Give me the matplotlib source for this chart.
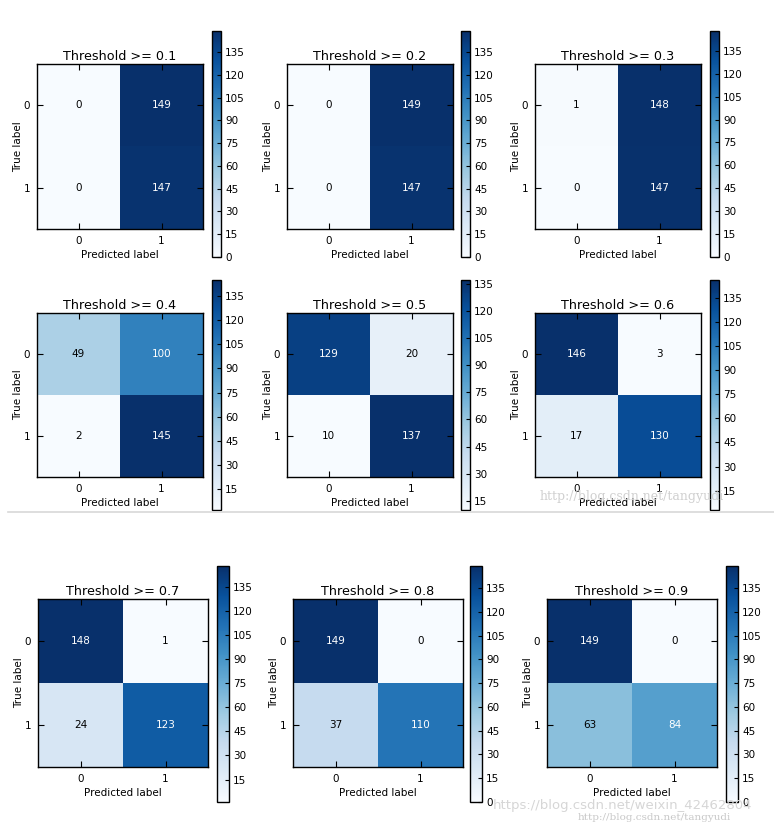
import numpy as np
import matplotlib
matplotlib.use("Agg")
import matplotlib.pyplot as plt
from matplotlib.ticker import MultipleLocator
from matplotlib.lines import Line2D

# ---- data ----
thresholds = [0.1, 0.2, 0.3, 0.4, 0.5, 0.6, 0.7, 0.8, 0.9]
cm_01 = [[0, 149], [0, 147]]
cm_02 = [[0, 149], [0, 147]]
cm_03 = [[1, 148], [0, 147]]
cm_04 = [[49, 100], [2, 145]]
cm_05 = [[129, 20], [10, 137]]
cm_06 = [[146, 3], [17, 130]]
cm_07 = [[148, 1], [24, 123]]
cm_08 = [[149, 0], [37, 110]]
cm_09 = [[149, 0], [63, 84]]
matrices = [cm_01, cm_02, cm_03, cm_04, cm_05, cm_06, cm_07, cm_08, cm_09]
class_labels = ["0", "1"]

W, H = 774, 826
fig = plt.figure(figsize=(W / 100, H / 100), dpi=100)
fig.patch.set_facecolor("white")


def px(l, t, w, h):
    return [l / W, 1 - (t + h) / H, w / W, h / H]


# layout (pixels)
rows = [
    dict(top=64, h=165, lefts=[37, 287, 535], w=166, cb_lefts=[212, 461, 710], cb_w=9, cb_top=31, cb_h=226),
    dict(top=313, h=164, lefts=[37, 287, 535], w=166, cb_lefts=[212, 461, 710], cb_w=9, cb_top=280, cb_h=230),
    dict(top=599, h=168, lefts=[38, 293, 547], w=170, cb_lefts=[217, 470, 726], cb_w=12, cb_top=566, cb_h=236),
]

for i, (thr, cm) in enumerate(zip(thresholds, matrices)):
    r = rows[i // 3]
    c = i % 3
    cm = np.array(cm)
    ax = fig.add_axes(px(r["lefts"][c], r["top"], r["w"], r["h"]))
    im = ax.imshow(cm, interpolation="nearest", cmap=plt.cm.Blues, aspect="auto")
    ax.set_title("Threshold >= %s" % thr, fontsize=9.2, pad=3)
    ax.set_xticks([0, 1])
    ax.set_xticklabels(class_labels)
    ax.set_yticks([0, 1])
    ax.set_yticklabels(class_labels)
    ax.tick_params(direction="in", top=True, right=True, length=4, labelsize=7.5, pad=5)
    thresh = cm.max() / 2.0
    for a in range(2):
        for b in range(2):
            ax.text(b, a, str(cm[a, b]), ha="center", va="center", fontsize=7.5,
                    color="white" if cm[a, b] > thresh else "black")
    ax.set_xlabel("Predicted label", fontsize=7.5, labelpad=3)
    ax.set_ylabel("True label", fontsize=7.5, labelpad=0)
    for s in ax.spines.values():
        s.set_linewidth(1.0)

    cax = fig.add_axes(px(r["cb_lefts"][c], r["cb_top"], r["cb_w"], r["cb_h"]))
    cb = fig.colorbar(im, cax=cax, ticks=MultipleLocator(15))
    cb.ax.tick_params(direction="in", length=3, labelsize=7.5, pad=3)
    cb.outline.set_linewidth(1.0)

# separator line between the two screenshots
fig.add_artist(Line2D([8 / W, 1.0], [1 - 512 / H, 1 - 512 / H], color="#d8d8d8", lw=1.2))

# faint watermarks
fig.text(540 / W, 1 - 497 / H, "http://blog.csdn.net/tangyudi", fontsize=9,
         color="#d0d0d0", family="DejaVu Serif", va="center", ha="left", zorder=0)
fig.text(493 / W, 1 - 806 / H, "https://blog.csdn.net/weixin_42462804", fontsize=9.5,
         color="#d6d6d6", va="center", ha="left", zorder=0)
fig.text(578 / W, 1 - 817 / H, "http://blog.csdn.net/tangyudi", fontsize=7.5,
         color="#c8c8c8", family="DejaVu Serif", va="center", ha="left", zorder=0)

fig.savefig("out.png", dpi=100, facecolor="white")
